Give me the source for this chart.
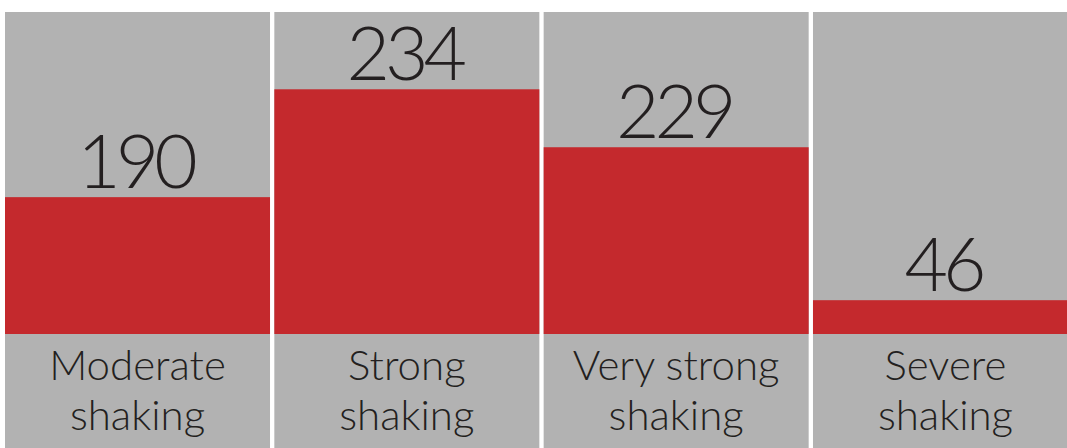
<!DOCTYPE html>
<html>
<head>
<meta charset="utf-8">
<script src="https://cdn.jsdelivr.net/npm/d3@7"></script>
<style>
    body { margin: 0; background: #ffffff; }
    svg { display: block; }
    text { font-family: "Segoe UI Light", Lato, "Open Sans", sans-serif; font-weight: 300; fill: #231f20; }
</style>
</head>
<body>
<div id="chart0"></div>
<script>
// ----- data -----
let categories = ["Moderate shaking", "Strong shaking", "Very strong shaking", "Severe shaking"];
let labelLines = [["Moderate", "shaking"], ["Strong", "shaking"], ["Very strong", "shaking"], ["Severe", "shaking"]];
let counts = [190, 234, 229, 46];
// height of the red bar, as a share (%) of the grey column
let shares = [42.5, 76, 58, 10.5];

function drawChart() {
    let svgWidth = 1067;
    let svgHeight = 448;

    let svg = d3
        .select("#chart0")
        .append("svg")
        .attr("id", "svg0")
        .attr("width", svgWidth)
        .attr("height", svgHeight);

    let colTop = 12;
    let base = 334;

    let x = d3
        .scaleBand()
        .domain(categories)
        .range([5, 1078])
        .paddingInner(0.016)
        .paddingOuter(0);

    let y = d3
        .scaleLinear()
        .domain([0, 100])
        .range([base, colTop]);

    let cols = svg
        .selectAll("g.col")
        .data(categories)
        .enter()
        .append("g")
        .attr("class", "col");

    // grey column
    cols.append("rect")
        .attr("fill", "#b2b2b2")
        .attr("x", d => x(d))
        .attr("y", colTop)
        .attr("width", x.bandwidth())
        .attr("height", svgHeight - colTop);

    // red bar
    cols.append("rect")
        .attr("fill", "#c4292d")
        .attr("x", d => x(d))
        .attr("y", (d, i) => y(shares[i]))
        .attr("width", x.bandwidth())
        .attr("height", (d, i) => base - y(shares[i]));

    // value on top of the bar (tighter digits, closer to the original face)
    cols.append("text")
        .attr("x", d => x(d) + x.bandwidth() / 2)
        .attr("y", (d, i) => y(shares[i]) - 9.5)
        .attr("dx", -2.5)
        .attr("text-anchor", "middle")
        .style("font-size", "75px")
        .style("letter-spacing", "-5px")
        .text((d, i) => counts[i]);

    // category label under the bar
    let labels = cols.append("text")
        .attr("text-anchor", "middle")
        .style("font-size", "42px");

    labels.selectAll("tspan")
        .data((d, i) => labelLines[i].map(t => ({ t: t, c: d })))
        .enter()
        .append("tspan")
        .attr("x", d => x(d.c) + x.bandwidth() / 2)
        .attr("y", (d, j) => 379.5 + j * 50.5)
        .text(d => d.t);
}

drawChart();
</script>
</body>
</html>
